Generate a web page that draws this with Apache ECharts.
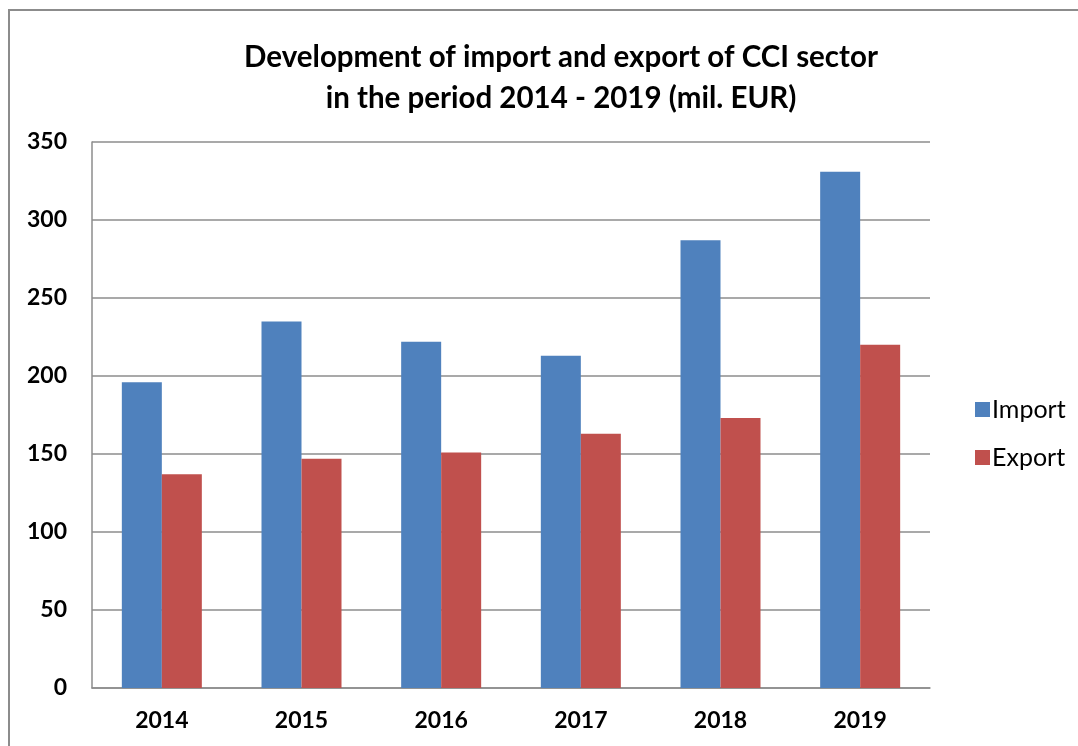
<!DOCTYPE html>
<html><head><meta charset="utf-8">
<script src="https://cdn.jsdelivr.net/npm/echarts@6/dist/echarts.min.js"></script>
<style>html,body{margin:0;padding:0;background:#fff}#c{width:1078px;height:746px}</style>
</head><body><div id="c"></div>
<script>
const categories = ['2014','2015','2016','2017','2018','2019'];
const importValues = [196, 235, 222, 213, 287, 331];
const exportValues = [137, 147, 151, 163, 173, 220];
const yTicks = [0, 50, 100, 150, 200, 250, 300, 350];

const font = 'Lato, "Open Sans", sans-serif';
const chart = echarts.init(document.getElementById('c'), null, {renderer: 'canvas'});
chart.setOption({
  animation: false,
  backgroundColor: '#fff',
  graphic: [{
    type: 'rect', shape: {x: 9, y: 10, width: 1200, height: 900},
    style: {fill: 'none', stroke: '#8c8c8c', lineWidth: 2}, silent: true, z: -1
  }],
  title: {
    text: 'Development of import and export of CCI sector\nin the period 2014 - 2019 (mil. EUR)',
    left: 556, top: 32, textAlign: 'center',
    textStyle: {fontFamily: font, fontSize: 29.5, fontWeight: 'bold', color: '#000', lineHeight: 41}
  },
  legend: {
    orient: 'vertical', left: 970, top: 392, itemGap: 23,
    itemWidth: 15, itemHeight: 15, icon: 'rect',
    textStyle: {fontFamily: font, fontSize: 25, color: '#000', padding: [0,0,0,-3]},
    data: ['Import', 'Export']
  },
  grid: {left: 92, top: 142, width: 838, height: 546, containLabel: false},
  xAxis: {
    type: 'category', data: categories,
    axisLine: {lineStyle: {color: '#8c8c8c', width: 1.5}},
    axisTick: {show: false},
    axisLabel: {fontFamily: font, fontSize: 23, fontWeight: 'bold', color: '#000', margin: 21}
  },
  yAxis: {
    type: 'value', min: 0, max: yTicks[yTicks.length-1], interval: 50,
    axisLine: {show: true, lineStyle: {color: '#8c8c8c', width: 1.5}},
    axisTick: {show: false},
    splitLine: {lineStyle: {color: '#8c8c8c', width: 1.5}},
    axisLabel: {fontFamily: font, fontSize: 23, fontWeight: 'bold', color: '#000', margin: 25}
  },
  series: [
    {name: 'Import', type: 'bar', data: importValues, barWidth: 40, barGap: '0%',
     itemStyle: {color: '#4F81BD'}},
    {name: 'Export', type: 'bar', data: exportValues, barWidth: 40,
     itemStyle: {color: '#C0504D'}}
  ]
});
</script></body></html>
